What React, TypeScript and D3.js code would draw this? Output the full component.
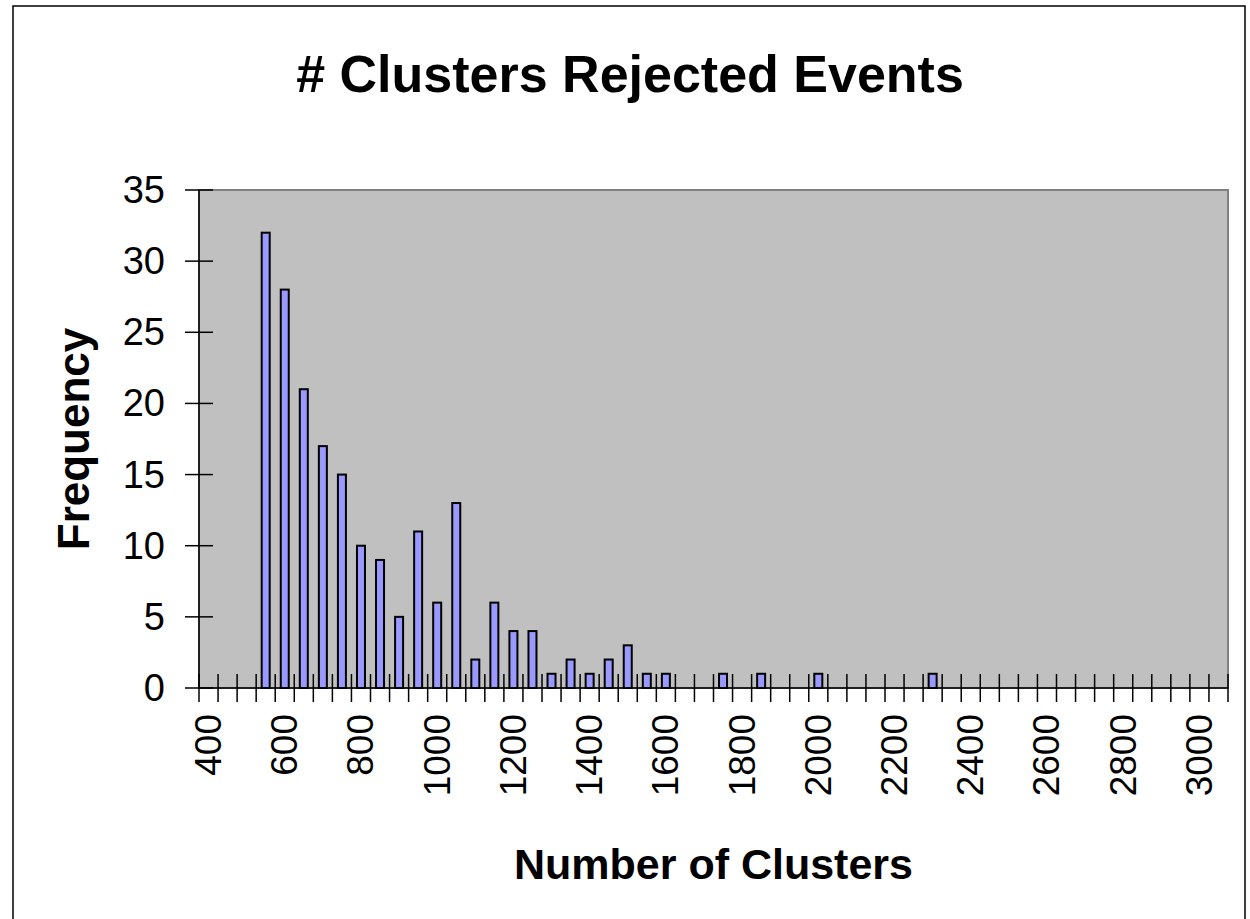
import { useEffect, useRef } from "react";
import * as d3 from "d3";

const categorias = [
  "400", "450", "500", "550", "600", "650", "700", "750", "800", "850",
  "900", "950", "1000", "1050", "1100", "1150", "1200", "1250", "1300", "1350",
  "1400", "1450", "1500", "1550", "1600", "1650", "1700", "1750", "1800", "1850",
  "1900", "1950", "2000", "2050", "2100", "2150", "2200", "2250", "2300", "2350",
  "2400", "2450", "2500", "2550", "2600", "2650", "2700", "2750", "2800", "2850",
  "2900", "2950", "3000", "3050",
];

const frecuencias = [
  0, 0, 0, 32, 28, 21, 17, 15, 10, 9,
  5, 11, 6, 13, 2, 6, 4, 4, 1, 2,
  1, 2, 3, 1, 1, 0, 0, 1, 0, 1,
  0, 0, 1, 0, 0, 0, 0, 0, 1, 0,
  0, 0, 0, 0, 0, 0, 0, 0, 0, 0,
  0, 0, 0, 0,
];

const etiquetasX = ["400", "600", "800", "1000", "1200", "1400", "1600", "1800", "2000", "2200", "2400", "2600", "2800", "3000"];
const ticksY = [0, 5, 10, 15, 20, 25, 30, 35];

const ANCHO = 1250;
const ALTO = 919;
const FUENTE = "'Liberation Sans', Arial, sans-serif";

export default function App() {
  const svgRef = useRef<SVGSVGElement>(null);

  useEffect(() => {
    if (!svgRef.current) return;
    const svg = d3.select(svgRef.current);
    svg.selectAll("*").remove();

    const area = { left: 199, right: 1228, top: 190, bottom: 688 };

    // Marco exterior del gráfico
    svg.append("rect")
      .attr("x", 13).attr("y", 6)
      .attr("width", 1232).attr("height", 930)
      .attr("fill", "#fff").attr("stroke", "#000").attr("stroke-width", 1.5);

    const datos = categorias.map((c, i) => ({ cat: c, valor: frecuencias[i] }));

    const bordes = d3.scaleBand<string>().domain(categorias).range([area.left, area.right]).padding(0);
    const x = d3.scaleBand<string>().domain(categorias).range([area.left, area.right])
      .paddingInner(0.58).paddingOuter(0.29);
    const y = d3.scaleLinear().domain([0, 35]).range([area.bottom, area.top]);

    // Área de trazado gris
    svg.append("rect")
      .attr("x", area.left).attr("y", area.top)
      .attr("width", area.right - area.left).attr("height", area.bottom - area.top)
      .attr("fill", "#C0C0C0").attr("stroke", "#808080").attr("stroke-width", 2);

    // Ejes
    svg.append("line")
      .attr("x1", area.left).attr("x2", area.left).attr("y1", area.top).attr("y2", area.bottom)
      .attr("stroke", "#000").attr("stroke-width", 1.5);

    svg.append("g").selectAll("line")
      .data(ticksY).enter().append("line")
      .attr("x1", area.left - 14).attr("x2", area.left + 14)
      .attr("y1", (d) => y(d)).attr("y2", (d) => y(d))
      .attr("stroke", "#000").attr("stroke-width", 1.5);

    svg.append("g").selectAll("text")
      .data(ticksY).enter().append("text")
      .attr("x", 165).attr("y", (d) => y(d))
      .attr("text-anchor", "end").attr("dominant-baseline", "central")
      .attr("font-family", FUENTE).attr("font-size", 38)
      .text((d) => String(d));

    // Barras
    svg.append("g").selectAll("rect")
      .data(datos.filter((d) => d.valor > 0)).enter().append("rect")
      .attr("x", (d) => x(d.cat) || 0)
      .attr("y", (d) => y(d.valor))
      .attr("width", x.bandwidth())
      .attr("height", (d) => y(0) - y(d.valor))
      .attr("fill", "#9999FF").attr("stroke", "#000").attr("stroke-width", 2);

    svg.append("line")
      .attr("x1", area.left).attr("x2", area.right).attr("y1", area.bottom).attr("y2", area.bottom)
      .attr("stroke", "#000").attr("stroke-width", 1.5);

    const posTicks = categorias.map((c) => bordes(c) || 0).concat([area.right]);
    svg.append("g").selectAll("line")
      .data(posTicks).enter().append("line")
      .attr("x1", (d) => d).attr("x2", (d) => d)
      .attr("y1", area.bottom - 14).attr("y2", area.bottom + 14)
      .attr("stroke", "#000").attr("stroke-width", 1.5);

    svg.append("g").selectAll("text")
      .data(etiquetasX).enter().append("text")
      .attr("transform", (d) => `translate(${(bordes(d) || 0) + bordes.bandwidth() / 2},714) rotate(-90)`)
      .attr("text-anchor", "end").attr("dominant-baseline", "central")
      .attr("font-family", FUENTE).attr("font-size", 37)
      .text((d) => d);

    // Títulos
    svg.append("text")
      .attr("x", 630).attr("y", 92)
      .attr("text-anchor", "middle")
      .attr("font-family", FUENTE).attr("font-size", 52).attr("font-weight", "bold")
      .text("# Clusters Rejected Events");

    svg.append("text")
      .attr("x", (area.left + area.right) / 2).attr("y", 879)
      .attr("text-anchor", "middle")
      .attr("font-family", FUENTE).attr("font-size", 43).attr("font-weight", "bold")
      .text("Number of Clusters");

    svg.append("text")
      .attr("transform", `translate(73,${(area.top + area.bottom) / 2}) rotate(-90)`)
      .attr("text-anchor", "middle").attr("dominant-baseline", "central")
      .attr("font-family", FUENTE).attr("font-size", 44).attr("font-weight", "bold")
      .text("Frequency");
  }, []);

  return (
    <svg
      ref={svgRef}
      width={ANCHO}
      height={ALTO}
      viewBox={`0 0 ${ANCHO} ${ALTO}`}
      style={{ position: "absolute", left: 0, top: 0, background: "#fff" }}
    />
  );
}
